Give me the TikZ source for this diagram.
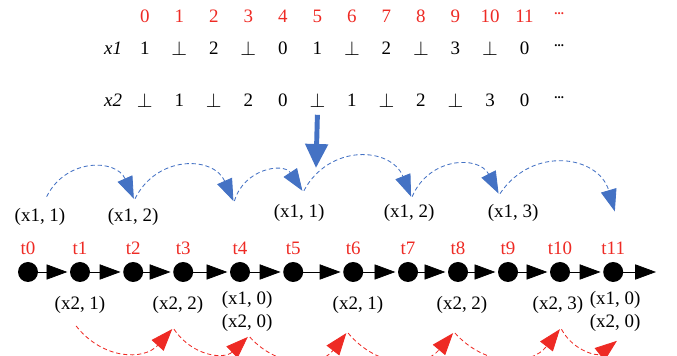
\documentclass[tikz,border=0pt]{standalone}
\usepackage{fontspec}
\setmainfont{Liberation Serif}
\usetikzlibrary{arrows.meta,positioning}
\definecolor{SeqRed}{HTML}{EE2A24}
\definecolor{SeqBlue}{HTML}{4472C4}
\newcommand{\bt}{\ensuremath{\bot}}
\tikzset{
  idx/.style={text=SeqRed,inner sep=1pt,font=\fontsize{13.5}{16}\selectfont},
  val/.style={inner sep=1pt,font=\fontsize{13.5}{16}\selectfont},
  dot/.style={circle,fill=black,inner sep=0pt,minimum size=0.5cm},
  tick/.style={line width=0.5pt,-{Triangle[length=0.52cm,width=0.38cm]},shorten >=0.06cm},
  hopblue/.style={SeqBlue,dash pattern=on 3pt off 2pt,line width=0.6pt,
    -{Triangle[length=0.55cm,width=0.4cm]},bend left=65,looseness=1.3,
    shorten <=1pt,shorten >=1pt},
  hopred/.style={SeqRed,dash pattern=on 3pt off 2pt,line width=0.6pt,
    -{Triangle[length=0.55cm,width=0.4cm]},bend right=50,looseness=1.15,
    shorten <=1pt,shorten >=1pt},
  drop/.style={SeqBlue,line width=3.5pt,-{Triangle[length=0.6cm,width=0.55cm]}}
}

\begin{document}
\begin{tikzpicture}[x=1cm,y=1cm]
\path[use as bounding box] (0,0) rectangle (16.925,8.90);
% slot numbers and the two rows
\foreach \i in {0,...,11}
  \node[idx] (n\i) at ({3.62+0.863*\i},8.50) {\i};
\node[idx] (ndots) at (13.98,8.50) {\raisebox{3pt}{\fontsize{9}{9}\selectfont\textbf{...}}};
\node[val] (xa) at (2.83,7.70) {\textit{x1}};
\node[val] (xb) at (2.83,6.40) {\textit{x2}};
\foreach \v [count=\i from 0] in {1,\bt,2,\bt,0,1,\bt,2,\bt,3,\bt,0}
  \node[val] (u\i) at ({3.62+0.863*\i},7.70) {\v};
\foreach \v [count=\i from 0] in {\bt,1,\bt,2,0,\bt,1,\bt,2,\bt,3,0}
  \node[val] (w\i) at ({3.62+0.863*\i},6.40) {\v};
\node[val] (udots) at (13.98,7.70) {\raisebox{3pt}{\fontsize{9}{9}\selectfont\textbf{...}}};
\node[val] (wdots) at (13.98,6.40) {\raisebox{3pt}{\fontsize{9}{9}\selectfont\textbf{...}}};
\coordinate (land) at (7.90,4.70);
\draw[drop] (w5) ++(0,-0.37) -- (land);
% time line
\foreach \x [count=\i from 0] in {0.70,2.00,3.33,4.58,6.00,7.33,8.83,10.20,11.45,12.70,14.00,15.33}
  \node[dot] (d\i) at (\x,2.10) {};
\foreach \i in {0,...,11}
  \node[idx,above=0.13cm of d\i] (t\i) {t\i};
\foreach \i [evaluate=\i as \j using int(\i+1)] in {0,...,10}
  \draw[tick] (d\i) -- (d\j);
\coordinate (tend) at (16.40,2.10);
\draw[tick,shorten >=0pt] (d11) -- (tend);
% x1 visits
\node[val] (a0) at (1.00,3.48) {(x1, 1)};
\node[val] (a2) at (3.33,3.48) {(x1, 2)};
\node[val] (a5) at (7.48,3.58) {(x1, 1)};
\node[val] (a7) at (10.23,3.58) {(x1, 2)};
\node[val] (a9) at (12.83,3.58) {(x1, 3)};
\coordinate (q0) at (1.15,3.95);
\coordinate (q1) at (3.36,3.90);
\coordinate (q2) at (5.85,3.84);
\coordinate (q3) at (7.58,4.10);
\coordinate (q4) at (10.29,3.95);
\coordinate (q5) at (12.48,4.03);
\coordinate (q6) at (15.38,3.58);
\foreach \i [evaluate=\i as \j using int(\i+1)] in {0,...,5}
  \draw[hopblue] (q\i) to (q\j);
% x2 visits
\node[val] (b1) at (2.00,1.28) {(x2, 1)};
\node[val] (b3) at (4.45,1.28) {(x2, 2)};
\node[val,align=center] (b4) at (6.18,1.12) {(x1, 0)\\(x2, 0)};
\node[val] (b6) at (8.95,1.28) {(x2, 1)};
\node[val] (b8) at (11.55,1.28) {(x2, 2)};
\node[val] (b10) at (13.95,1.28) {(x2, 3)};
\node[val,align=center] (b11) at (15.38,1.12) {(x1, 0)\\(x2, 0)};
\coordinate (s0) at (1.88,0.78);
\coordinate (s1) at (4.33,0.70);
\coordinate (s2) at (6.22,0.50);
\coordinate (s3) at (8.68,0.60);
\coordinate (s4) at (11.35,0.60);
\coordinate (s5) at (14.02,0.70);
\coordinate (s6) at (15.45,0.40);
\foreach \i [evaluate=\i as \j using int(\i+1)] in {0,...,5}
  \draw[hopred] (s\i) to (s\j);
\end{tikzpicture}
\end{document}
